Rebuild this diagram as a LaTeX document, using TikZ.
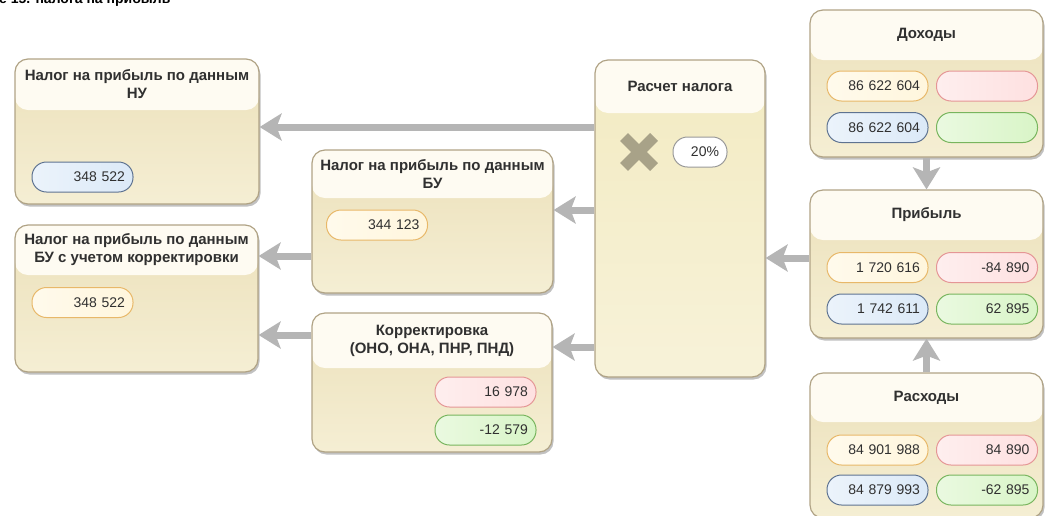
\documentclass[tikz,border=0pt]{standalone}
\usepackage{fontspec}
\setmainfont{Liberation Sans}
\usetikzlibrary{arrows.meta,shadows}

\newlength{\du}
\setlength{\du}{1pt}

\definecolor{textdark}{rgb}{0.190000, 0.190000, 0.190000}
\definecolor{panelline}{rgb}{0.690000, 0.640000, 0.520000}
\definecolor{panelhead}{rgb}{0.995000, 0.985000, 0.950000}
\definecolor{bodytop}{rgb}{0.925000, 0.880000, 0.730000}
\definecolor{bodybot}{rgb}{0.960000, 0.935000, 0.830000}
\definecolor{calctop}{rgb}{0.950000, 0.920000, 0.760000}
\definecolor{calcbot}{rgb}{0.970000, 0.950000, 0.850000}
\definecolor{arrowgray}{rgb}{0.710000, 0.710000, 0.710000}
\definecolor{crossgray}{rgb}{0.660000, 0.635000, 0.535000}
\definecolor{orangefill}{rgb}{1.000000, 0.965000, 0.865000}
\definecolor{orangeline}{rgb}{0.910000, 0.720000, 0.410000}
\definecolor{pinkfill}{rgb}{0.995000, 0.880000, 0.880000}
\definecolor{pinkline}{rgb}{0.900000, 0.590000, 0.590000}
\definecolor{bluefill}{rgb}{0.860000, 0.915000, 0.970000}
\definecolor{blueline}{rgb}{0.370000, 0.450000, 0.570000}
\definecolor{greenfill}{rgb}{0.850000, 0.960000, 0.780000}
\definecolor{greenline}{rgb}{0.470000, 0.710000, 0.370000}
\definecolor{whitefill}{rgb}{1.000000, 1.000000, 1.000000}
\definecolor{whiteline}{rgb}{0.600000, 0.600000, 0.600000}

\tikzset{
  panel/.style={draw=panelline, line width=1.2\du, rounded corners=13\du,
    top color=bodytop, bottom color=bodybot,
    drop shadow={shadow xshift=1.5\du, shadow yshift=-2.5\du, opacity=0.35, fill=black!70},
    path picture={\fill[panelhead] (path picture bounding box.north west)
      rectangle ([yshift=-#1]path picture bounding box.north east);}},
  calcpanel/.style={panel=#1, top color=calctop, bottom color=calcbot},
  title/.style={align=center, inner sep=0, text=textdark,
    font=\bfseries\fontsize{15}{18}\selectfont},
  pill/.style={draw=#1line, line width=1\du, rounded corners=14.5\du,
    left color=white!45!#1fill, right color=#1fill,
    minimum width=101\du, minimum height=30\du, text width=85\du,
    inner xsep=8\du, align=right, text=textdark,
    font=\fontsize{14}{16}\selectfont},
  flow/.style={draw=arrowgray, line width=7\du,
    -{Stealth[length=22pt, width=27pt, inset=5pt]}},
}

\begin{document}
\begin{tikzpicture}[x=\du, y=-\du]
\useasboundingbox (0,0) rectangle (1046,515);
\node[anchor=base west, inner sep=0, text=black, font=\bfseries\fontsize{14}{16}\selectfont]
  (caption) at (-1,3) {е 15. налога на прибыль};

% results on the left
\node[panel=51\du, minimum width=244\du, minimum height=145\du] (nu) at (137,131.5) {};
\node[title] (nutitle) at (137,84.5) {Налог на прибыль по данным\\НУ};
\node[pill=blue] (nuval) at (82.5,177) {348 522};

\node[panel=50\du, minimum width=243\du, minimum height=147\du] (buk) at (136.5,298.5) {};
\node[title] (buktitle) at (136.5,250) {Налог на прибыль по данным\\БУ с учетом корректировки};
\node[pill=orange] (bukval) at (82.5,302.5) {348 522};

\node[panel=48\du, minimum width=241\du, minimum height=143\du] (bu) at (432.5,221.5) {};
\node[title] (butitle) at (432.5,174) {Налог на прибыль по данным\\БУ};
\node[pill=orange] (buval) at (377,225) {344 123};

\node[panel=55\du, minimum width=240\du, minimum height=139\du] (korr) at (432,382.5) {};
\node[title] (korrtitle) at (432,340.5) {Корректировка\\(ОНО, ОНА, ПНР, ПНД)};
\node[pill=pink] (korrpos) at (485.5,392) {16 978};
\node[pill=green] (korrneg) at (485.5,430) {-12 579};

% tax calculation
\node[calcpanel=53\du, minimum width=170\du, minimum height=317\du] (calc) at (680,218.5) {};
\node[title] (calctitle) at (680,86) {Расчет налога};
\draw[crossgray, line width=11\du] (624,137) -- (654,167) (624,167) -- (654,137);
\node[pill=white, minimum width=54\du, text width=38\du] (rate) at (700,152) {20\%};

% income, profit, expenses
\node[panel=50\du, minimum width=233\du, minimum height=147\du] (doh) at (926.5,83.5) {};
\node[title] (dohtitle) at (926.5,35) {Доходы};
\node[pill=orange] (doh1) at (877.5,86) {86 622 604};
\node[pill=pink] (doh2) at (987,86) {};
\node[pill=blue] (doh3) at (877.5,127.5) {86 622 604};
\node[pill=green] (doh4) at (987,127.5) {};

\node[panel=50\du, minimum width=233\du, minimum height=148\du] (prib) at (926.5,264) {};
\node[title] (pribtitle) at (926.5,215) {Прибыль};
\node[pill=orange] (prib1) at (877.5,267.5) {1 720 616};
\node[pill=pink] (prib2) at (987,267.5) {-84 890};
\node[pill=blue] (prib3) at (877.5,309) {1 742 611};
\node[pill=green] (prib4) at (987,309) {62 895};

\node[panel=49\du, minimum width=233\du, minimum height=145\du] (rash) at (926.5,445.5) {};
\node[title] (rashtitle) at (926.5,397.5) {Расходы};
\node[pill=orange] (rash1) at (877.5,450) {84 901 988};
\node[pill=pink] (rash2) at (987,450) {84 890};
\node[pill=blue] (rash3) at (877.5,490) {84 879 993};
\node[pill=green] (rash4) at (987,490) {-62 895};

% connectors
\draw[flow] (doh.south) -- (prib.north);
\draw[flow] (rash.north) -- (prib.south);
\draw[flow] ([yshift=6\du]prib.west) -- ([yshift=6\du]calc.east |- prib.west);
\draw[flow] ([yshift=4.5\du]calc.west |- nu.east) -- ([yshift=4.5\du]nu.east);
\draw[flow] ([yshift=11.5\du]calc.west |- bu.east) -- ([yshift=11.5\du]bu.east);
\draw[flow] ([yshift=35.5\du]calc.west |- korr.east) -- ([yshift=35.5\du]korr.east);
\draw[flow] ([yshift=-34.5\du]bu.west) -- ([yshift=-34.5\du]buk.east |- bu.west);
\draw[flow] ([yshift=47.5\du]korr.west) -- ([yshift=47.5\du]buk.east |- korr.west);
\end{tikzpicture}
\end{document}
